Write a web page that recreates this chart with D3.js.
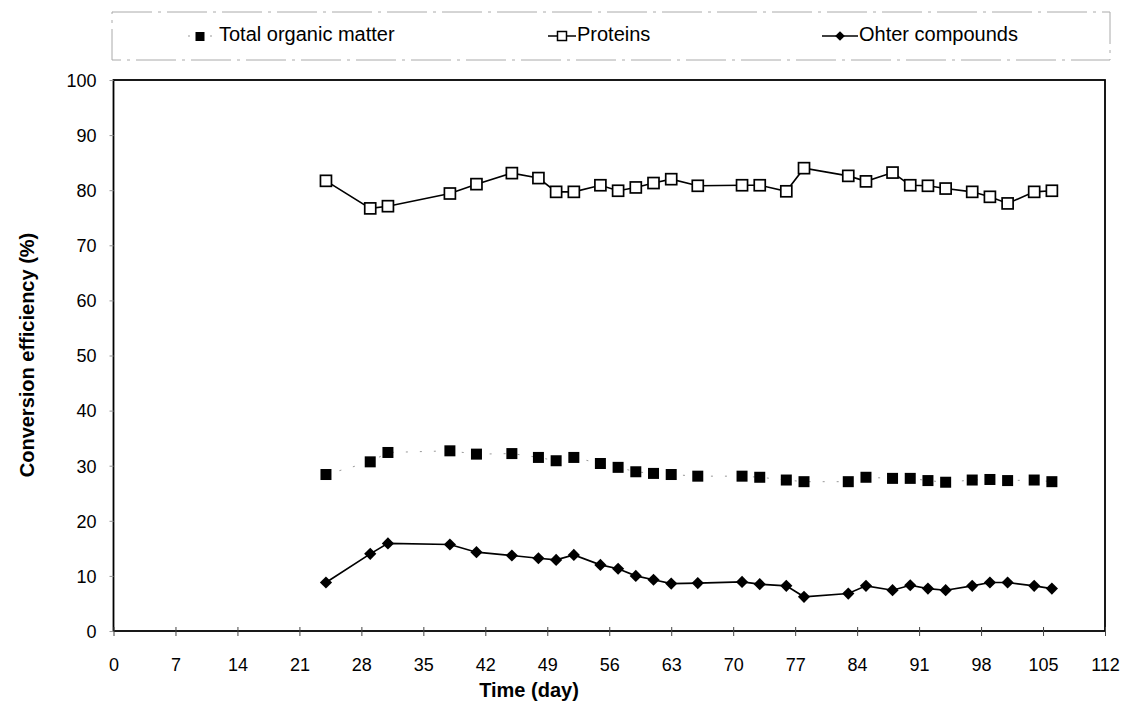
<!DOCTYPE html>
<meta charset="utf-8">
<style>
  body { margin: 0; background: #fff; font-family: "Liberation Sans", Arial, sans-serif; }
  .tick text { font-size: 18px; fill: #000; }
</style>
<body>
<script src="https://cdn.jsdelivr.net/npm/d3@7"></script>
<script>
  // sampling days
  var days = [24, 29, 31, 38, 41, 45, 48, 50, 52, 55, 57, 59, 61, 63, 66,
    71, 73, 76, 78, 83, 85, 88, 90, 92, 94, 97, 99, 101, 104, 106];

  var totalOrganic = [28.4, 30.7, 32.4, 32.7, 32.1, 32.2, 31.5, 30.9, 31.5, 30.4, 29.7, 28.9, 28.6, 28.4, 28.1,
    28.1, 27.9, 27.4, 27.1, 27.1, 27.9, 27.7, 27.7, 27.3, 27.0, 27.4, 27.5, 27.3, 27.4, 27.1];

  var proteins = [81.7, 76.7, 77.1, 79.4, 81.1, 83.1, 82.2, 79.7, 79.7, 80.9, 79.9, 80.5, 81.3, 82.0, 80.8,
    80.9, 80.9, 79.8, 84.0, 82.6, 81.6, 83.2, 80.9, 80.8, 80.3, 79.7, 78.8, 77.6, 79.7, 79.9];

  var otherCompounds = [8.8, 14.0, 15.9, 15.7, 14.3, 13.7, 13.2, 12.9, 13.8, 12.0, 11.3, 10.0, 9.3, 8.6, 8.7,
    8.9, 8.5, 8.2, 6.2, 6.8, 8.2, 7.4, 8.3, 7.7, 7.4, 8.2, 8.8, 8.8, 8.2, 7.7];

  var xTicks = d3.range(0, 113, 7);
  var yTicks = d3.range(0, 101, 10);

  var W = 1130, H = 722;
  var x = d3.scaleLinear().domain([0, 112]).range([113.5, 1105]);
  var y = d3.scaleLinear().domain([0, 100]).range([631, 80]);

  var svg = d3.select("body").append("svg")
    .attr("width", W)
    .attr("height", H);

  // plot frame
  svg.append("rect")
    .attr("x", x(0)).attr("y", y(100))
    .attr("width", x(112) - x(0)).attr("height", y(0) - y(100))
    .attr("fill", "none").attr("stroke", "#000").attr("stroke-width", 1.8);

  // axes
  var xAxis = svg.append("g")
    .attr("transform", "translate(0," + y(0) + ")")
    .call(d3.axisBottom(x).tickValues(xTicks).tickSize(5).tickPadding(22).tickSizeOuter(0));
  xAxis.select(".domain").remove();
  xAxis.selectAll(".tick line").attr("y1", -4).attr("stroke", "#444");

  var yAxis = svg.append("g")
    .attr("transform", "translate(" + x(0) + ",0)")
    .call(d3.axisLeft(y).tickValues(yTicks).tickSize(4).tickPadding(13).tickSizeOuter(0));
  yAxis.select(".domain").remove();
  yAxis.selectAll(".tick line").attr("stroke", "#999");
  yAxis.selectAll(".tick text").attr("dy", "0.35em");

  // axis titles
  svg.append("text")
    .attr("x", 529).attr("y", 697)
    .attr("text-anchor", "middle")
    .style("font-size", "20px").style("font-weight", "bold")
    .text("Time (day)");

  svg.append("text")
    .attr("transform", "translate(34,355) rotate(-90)")
    .attr("text-anchor", "middle")
    .style("font-size", "20px").style("font-weight", "bold")
    .text("Conversion efficiency (%)");

  function pts(vals) {
    return days.map(function(d, i) { return [d, vals[i]]; });
  }
  var line = d3.line()
    .x(function(d) { return x(d[0]); })
    .y(function(d) { return y(d[1]); });

  // Total organic matter: faint dotted line + filled squares
  svg.append("path")
    .datum(pts(totalOrganic))
    .attr("d", line)
    .attr("fill", "none").attr("stroke", "#999").attr("stroke-width", 1)
    .attr("stroke-dasharray", "2,12");
  svg.selectAll(".tom").data(pts(totalOrganic)).enter().append("rect")
    .attr("class", "tom")
    .attr("x", function(d) { return x(d[0]) - 5.5; })
    .attr("y", function(d) { return y(d[1]) - 5.5; })
    .attr("width", 11).attr("height", 11)
    .attr("fill", "#000");

  // Proteins: solid line + open squares
  svg.append("path")
    .datum(pts(proteins))
    .attr("d", line)
    .attr("fill", "none").attr("stroke", "#000").attr("stroke-width", 1.6);
  svg.selectAll(".prot").data(pts(proteins)).enter().append("rect")
    .attr("class", "prot")
    .attr("x", function(d) { return x(d[0]) - 5.5; })
    .attr("y", function(d) { return y(d[1]) - 5.5; })
    .attr("width", 11).attr("height", 11)
    .attr("fill", "#fff").attr("stroke", "#000").attr("stroke-width", 1.7);

  // Other compounds: solid line + diamonds
  var diamond = d3.symbol().type(d3.symbolDiamond2).size(95);
  svg.append("path")
    .datum(pts(otherCompounds))
    .attr("d", line)
    .attr("fill", "none").attr("stroke", "#000").attr("stroke-width", 1.7);
  svg.selectAll(".oth").data(pts(otherCompounds)).enter().append("path")
    .attr("class", "oth")
    .attr("d", diamond)
    .attr("transform", function(d) { return "translate(" + x(d[0]) + "," + y(d[1]) + ")"; })
    .attr("fill", "#000");

  // legend
  var legend = svg.append("g");
  legend.append("rect")
    .attr("x", 112).attr("y", 12).attr("width", 998).attr("height", 48)
    .attr("fill", "none").attr("stroke", "#aaa").attr("stroke-width", 1)
    .attr("stroke-dasharray", "40,6,3,6");

  var ly = 36;
  var items = [
    { name: "Total organic matter", x0: 188, x1: 212, mk: "tom", tx: 219 },
    { name: "Proteins", x0: 548, x1: 576, mk: "prot", tx: 577 },
    { name: "Ohter compounds", x0: 822, x1: 858, mk: "oth", tx: 859 }
  ];
  items.forEach(function(it) {
    var g = legend.append("g");
    var cx = (it.x0 + it.x1) / 2;
    if (it.mk === "tom") {
      g.append("line").attr("x1", it.x0).attr("x2", it.x1).attr("y1", ly).attr("y2", ly)
        .attr("stroke", "#999").attr("stroke-width", 1).attr("stroke-dasharray", "2,9");
      g.append("rect").attr("x", cx - 4.5).attr("y", ly - 4).attr("width", 9).attr("height", 9).attr("fill", "#000");
    } else if (it.mk === "prot") {
      g.append("line").attr("x1", it.x0).attr("x2", it.x1).attr("y1", ly).attr("y2", ly)
        .attr("stroke", "#000").attr("stroke-width", 1.5);
      g.append("rect").attr("x", cx - 4.5).attr("y", ly - 4.5).attr("width", 9).attr("height", 9)
        .attr("fill", "#fff").attr("stroke", "#000").attr("stroke-width", 1.5);
    } else {
      g.append("line").attr("x1", it.x0).attr("x2", it.x1).attr("y1", ly).attr("y2", ly)
        .attr("stroke", "#000").attr("stroke-width", 1.5);
      g.append("path").attr("d", d3.symbol().type(d3.symbolDiamond2).size(60))
        .attr("transform", "translate(" + cx + "," + ly + ")").attr("fill", "#000");
    }
    g.append("text")
      .attr("x", it.tx).attr("y", ly + 5)
      .style("font-size", "20px")
      .text(it.name);
  });
</script>
</body>
